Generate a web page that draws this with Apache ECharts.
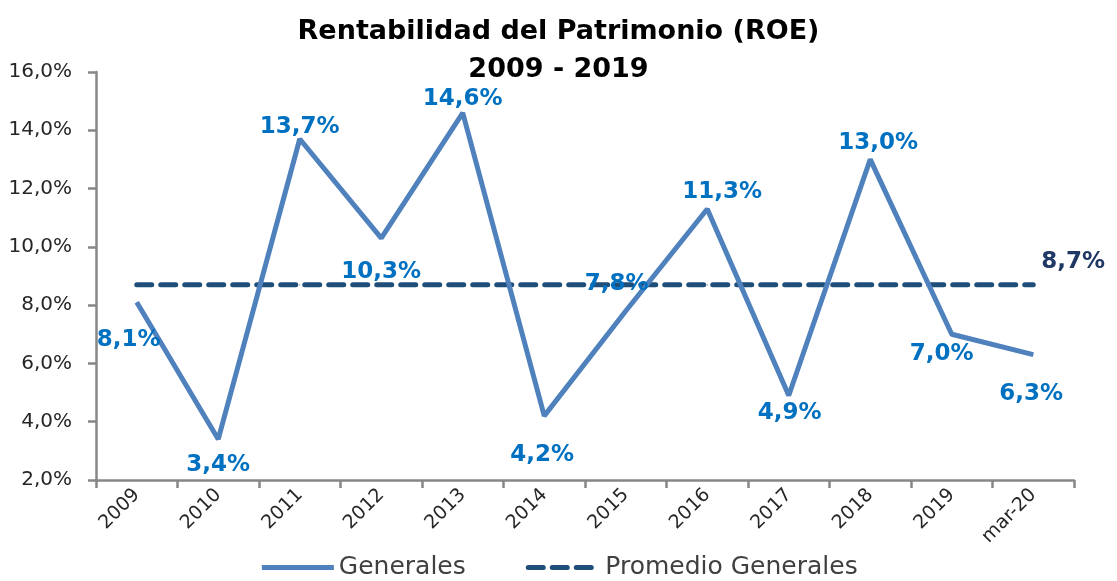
<!DOCTYPE html>
<html>
<head>
<meta charset="utf-8">
<script src="https://cdn.jsdelivr.net/npm/echarts@6/dist/echarts.min.js"></script>
<style>
  html, body { margin: 0; padding: 0; background: #fff; }
  #chart { width: 1117px; height: 581px; }
</style>
</head>
<body>
<div id="chart"></div>
<script>
const categories = ['2009', '2010', '2011', '2012', '2013', '2014', '2015', '2016', '2017', '2018', '2019', 'mar-20']
const generales = [8.1, 3.4, 13.7, 10.3, 14.6, 4.2, 7.8, 11.3, 4.9, 13.0, 7.0, 6.3]
const promedio = [8.7, 8.7, 8.7, 8.7, 8.7, 8.7, 8.7, 8.7, 8.7, 8.7, 8.7, 8.7]

// where each value label sits, relative to its point
const labelOffsets = [[-8, 38], [0, 26], [0, -12], [0, 34], [0, -14], [-2, 39], [-9, -27], [15, -17], [1, 18], [8, -16], [-10, 20], [-2, 39]]

const font = 'DejaVu Sans'
const fmt = v => v.toFixed(1).replace('.', ',') + '%'

const chart = echarts.init(document.getElementById('chart'))

const option = {
  animation: false,
  textStyle: { fontFamily: font },
  title: {
    text: 'Rentabilidad del Patrimonio (ROE)\n2009 - 2019',
    left: 'center',
    top: 8,
    textStyle: { fontFamily: font, fontSize: 27, fontWeight: 'bold', color: '#000', lineHeight: 38 }
  },
  legend: {
    bottom: -4,
    left: 'center',
    itemWidth: 72,
    itemHeight: 14,
    itemGap: 60,
    itemStyle: { opacity: 0 },
    lineStyle: { width: 5 },
    textStyle: { fontFamily: font, fontSize: 25, color: '#404040' },
    data: ['Generales', 'Promedio Generales']
  },
  grid: { left: 96, right: 43, top: 72, bottom: 101, outerBoundsMode: 'none' },
  xAxis: {
    type: 'category',
    data: categories,
    boundaryGap: true,
    axisLine: { lineStyle: { color: '#878787', width: 2.5 } },
    axisTick: { show: true, length: 8, lineStyle: { color: '#878787', width: 2.5 } },
    axisLabel: { rotate: 45, fontSize: 19, color: '#262626', margin: 12, fontFamily: font }
  },
  yAxis: {
    type: 'value',
    min: 2,
    max: 16,
    interval: 2,
    splitLine: { show: false },
    axisLine: { show: true, lineStyle: { color: '#878787', width: 2.5 } },
    axisTick: { show: true, length: 8, lineStyle: { color: '#878787', width: 2.5 } },
    axisLabel: { fontSize: 20, color: '#262626', margin: 24, fontFamily: font, formatter: v => fmt(v) }
  },
  series: [
    {
      name: 'Generales',
      type: 'line',
      data: generales.map((v, i) => ({
        value: v,
        label: { offset: labelOffsets[i] }
      })),
      symbol: 'circle',
      symbolSize: 1,
      itemStyle: { color: '#4f81bd' },
      lineStyle: { color: '#4f81bd', width: 5 },
      label: {
        show: true,
        position: 'inside',
        formatter: p => fmt(p.value),
        fontFamily: font,
        fontSize: 23,
        fontWeight: 'bold',
        color: '#0070c0'
      },
      z: 3
    },
    {
      name: 'Promedio Generales',
      type: 'line',
      data: promedio.map((v, i) => ({
        value: v,
        label: { show: i === promedio.length - 1, offset: [40, -23] }
      })),
      symbol: 'circle',
      symbolSize: 1,
      itemStyle: { color: '#1f4e79' },
      lineStyle: { color: '#1f4e79', width: 5, type: [15, 9], cap: 'round' },
      label: {
        position: 'inside',
        formatter: p => fmt(p.value),
        fontFamily: font,
        fontSize: 23,
        fontWeight: 'bold',
        color: '#1f3864'
      },
      z: 2
    }
  ]
}

chart.setOption(option)
</script>
</body>
</html>
